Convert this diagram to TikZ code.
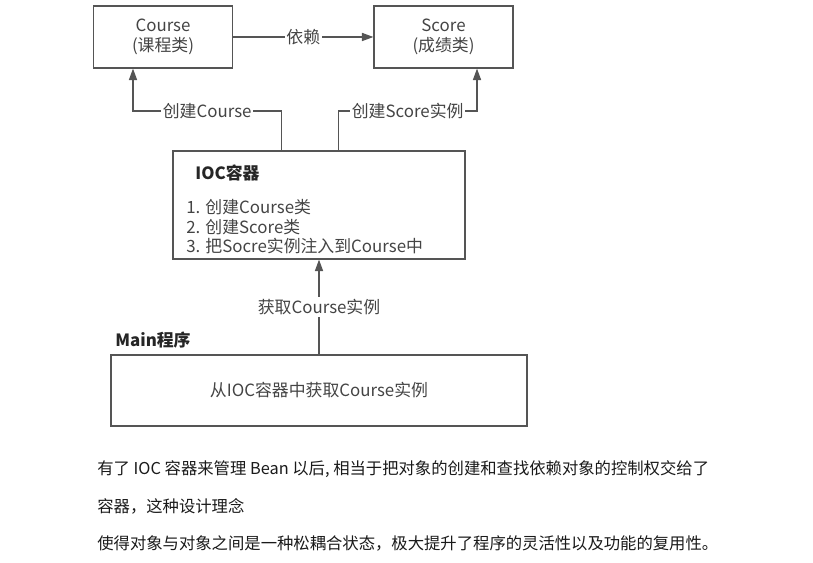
\documentclass[tikz,border=0pt]{standalone}
\usepackage{fontspec}
\setmainfont{Noto Sans CJK SC}
\usepackage{tikz}
\usetikzlibrary{arrows.meta,positioning}
\definecolor{linegray}{RGB}{85,85,85}
\definecolor{textgray}{RGB}{68,68,68}
\definecolor{bodytext}{RGB}{26,26,26}
\tikzset{
    % 框的样式
    classbox/.style={
        draw=linegray,
        line width=0.7pt,
        text=textgray,
        align=center,
        font=\fontsize{9.6}{11.4}\selectfont
    },
    % 箭头样式
    grayarrow/.style={
        line width=0.7pt,
        linegray,
        -{Triangle[length=6.5pt, width=4.6pt]}
    },
    arrowlabel/.style={
        fill=white,
        text=textgray,
        inner sep=1pt,
        font=\fontsize{9.6}{11}\selectfont
    },
    itemtext/.style={
        anchor=west,
        text=textgray,
        inner sep=0pt,
        font=\fontsize{9.6}{11}\selectfont
    },
    bodyline/.style={
        anchor=west,
        text=bodytext,
        inner sep=0pt,
        font=\fontsize{9.3}{11}\selectfont
    }
}

\begin{document}
\begin{tikzpicture}[x=0.02cm,y=-0.02cm]
	\useasboundingbox (0,0) rectangle (813,563);
	
	% 上方两个类
	\node[classbox,minimum width=2.78cm,minimum height=1.24cm] (course) at (163,37) {Course\\(课程类)};
	\node[classbox,minimum width=2.78cm,minimum height=1.24cm] (score) at (443.5,37) {Score\\(成绩类)};
	
	% IOC容器
	\node[classbox,minimum width=5.84cm,minimum height=2.16cm] (ioc) at (319,205) {};
	\node[itemtext,font=\fontsize{9.6}{11}\selectfont\bfseries,text=black!85] (iocTitle) at (195,173) {IOC容器};
	\node[itemtext] (item1) at (186,207) {1. 创建Course类};
	\node[itemtext] (item2) at (186,227) {2. 创建Score类};
	\node[itemtext] (item3) at (186,246) {3. 把Socre实例注入到Course中};
	
	% Main程序
	\node[classbox,minimum width=8.32cm,minimum height=1.42cm] (main) at (319,390.5) {从IOC容器中获取Course实例};
	\node[itemtext,font=\fontsize{9.6}{11}\selectfont\bfseries,text=black!85] (mainTitle) at (115,340) {Main程序};
	
	\path (133,111) coordinate (bendA)
	      (477,111) coordinate (bendB);
	
	% 箭头
	\draw[grayarrow] (course) -- node[arrowlabel]{依赖} (score);
	\draw[grayarrow] ([xshift=2.18cm]ioc.north west) |- node[arrowlabel,pos=0.75]{创建Course} (bendA) -- (bendA |- course.south);
	\draw[grayarrow] ([xshift=3.32cm]ioc.north west) |- node[arrowlabel,pos=0.75]{创建Score实例} (bendB) -- (bendB |- score.south);
	\draw[grayarrow] (main) -- node[arrowlabel]{获取Course实例} (ioc);
	
	% 下方文字
	\node[bodyline] (line1) at (97,469) {有了 IOC 容器来管理 Bean 以后, 相当于把对象的创建和查找依赖对象的控制权交给了};
	\node[bodyline] (line2) at (97,506) {容器，这种设计理念};
	\node[bodyline] (line3) at (97,543) {使得对象与对象之间是一种松耦合状态，极大提升了程序的灵活性以及功能的复用性。};
\end{tikzpicture}
\end{document}
